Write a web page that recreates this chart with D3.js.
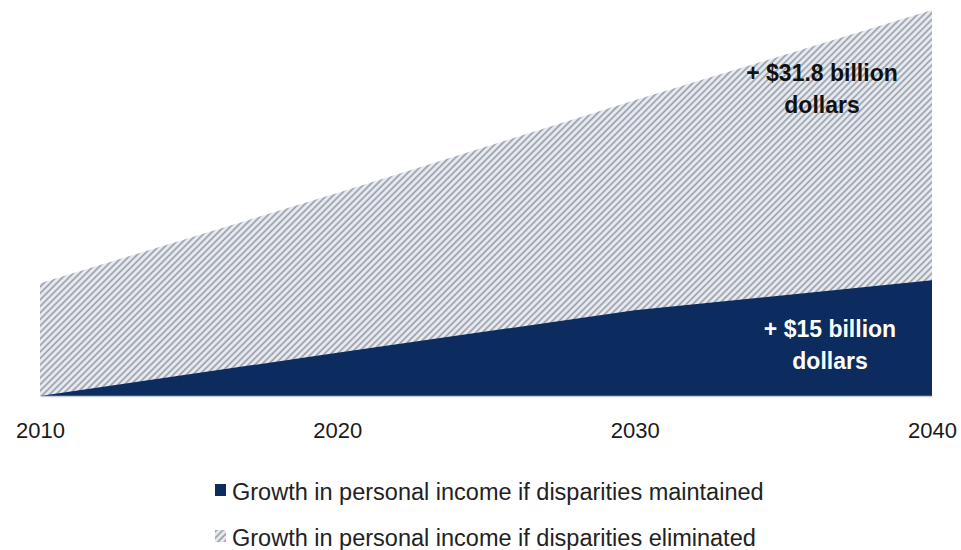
<!DOCTYPE html>
<html>
<head>
<meta charset="utf-8">
<script src="https://cdn.jsdelivr.net/npm/d3@7"></script>
<style>
    body { margin: 0; background: #fff; }
    svg { display: block; font-family: 'Liberation Sans', Arial, sans-serif; }
</style>
</head>
<body>
<div id="chart"></div>
<script>
const years = [2010, 2020, 2030, 2040];
const maintained = [0, 5.6, 11.1, 15];
const eliminated = [14.6, 26.3, 38.3, 50];
const tickLabels = ['2010', '2020', '2030', '2040'];
const legendLabels = [
    'Growth in personal income if disparities maintained',
    'Growth in personal income if disparities eliminated'
];
const annotationText = [
    ['+ $31.8 billion', 'dollars'],
    ['+ $15 billion', 'dollars']
];
const annotationValues = [40.8, 7.6];

const navy = '#0c2b5e';
const width = 961;
const height = 550;
const margin = { top: 10, right: 29, bottom: 154, left: 40 };

const svg = d3.select('#chart')
    .append('svg')
    .attr('width', width)
    .attr('height', height);

const defs = svg.append('defs');

const hatch = defs.append('pattern')
    .attr('id', 'hatch')
    .attr('patternUnits', 'userSpaceOnUse')
    .attr('width', 4.6)
    .attr('height', 4.6)
    .attr('patternTransform', 'rotate(45)');

hatch.append('rect')
    .attr('width', 4.6)
    .attr('height', 4.6)
    .attr('fill', '#e9edf3');

hatch.append('line')
    .attr('x1', 1.2).attr('y1', 0)
    .attr('x2', 1.2).attr('y2', 4.6)
    .attr('stroke', '#979ca6')
    .attr('stroke-width', 1.7);

const x = d3.scaleLinear()
    .domain([2010, 2040])
    .range([margin.left, width - margin.right]);

const y = d3.scaleLinear()
    .domain([0, 50])
    .range([height - margin.bottom, margin.top]);

const area = d3.area()
    .x((d, i) => x(years[i]))
    .y0(y(0))
    .y1(d => y(d));

svg.append('path')
    .datum(eliminated)
    .attr('fill', 'url(#hatch)')
    .attr('d', area);

svg.append('path')
    .datum(maintained)
    .attr('fill', navy)
    .attr('d', area);

// axis
const xAxis = svg.append('g')
    .attr('transform', `translate(0,${y(0)})`)
    .call(d3.axisBottom(x)
        .tickValues(years)
        .tickFormat((d, i) => tickLabels[i])
        .tickSize(0)
        .tickPadding(26));

xAxis.select('.domain').attr('stroke', '#c8cdd6').attr('stroke-width', 1.5);
xAxis.selectAll('text')
    .attr('font-size', 22)
    .attr('fill', '#1a1a1a')
    .style('font-family', "'Liberation Sans', Arial, sans-serif");

// annotations, right end of both sits near x = 898
const labelX = [x(2040) - 110, x(2040) - 102];
const labelColor = ['#111', '#fff'];

annotationText.forEach((lines, k) => {
    const t = svg.append('text')
        .attr('x', labelX[k])
        .attr('y', y(annotationValues[k]))
        .attr('text-anchor', 'middle')
        .attr('font-size', 23)
        .attr('font-weight', 'bold')
        .attr('fill', labelColor[k]);

    lines.forEach((line, i) => {
        t.append('tspan')
            .attr('x', labelX[k])
            .attr('dy', i === 0 ? 0 : 32)
            .text(line);
    });
});

// legend
const legend = svg.append('g')
    .attr('transform', 'translate(215,0)');

legendLabels.forEach((label, i) => {
    const row = legend.append('g')
        .attr('transform', `translate(0,${484 + i * 46})`);

    row.append('rect')
        .attr('width', 11)
        .attr('height', 12)
        .attr('fill', i === 0 ? navy : 'url(#hatch)');

    row.append('text')
        .attr('x', 17)
        .attr('y', 16)
        .attr('font-size', 23.5)
        .attr('fill', '#222')
        .text(label);
});
</script>
</body>
</html>
